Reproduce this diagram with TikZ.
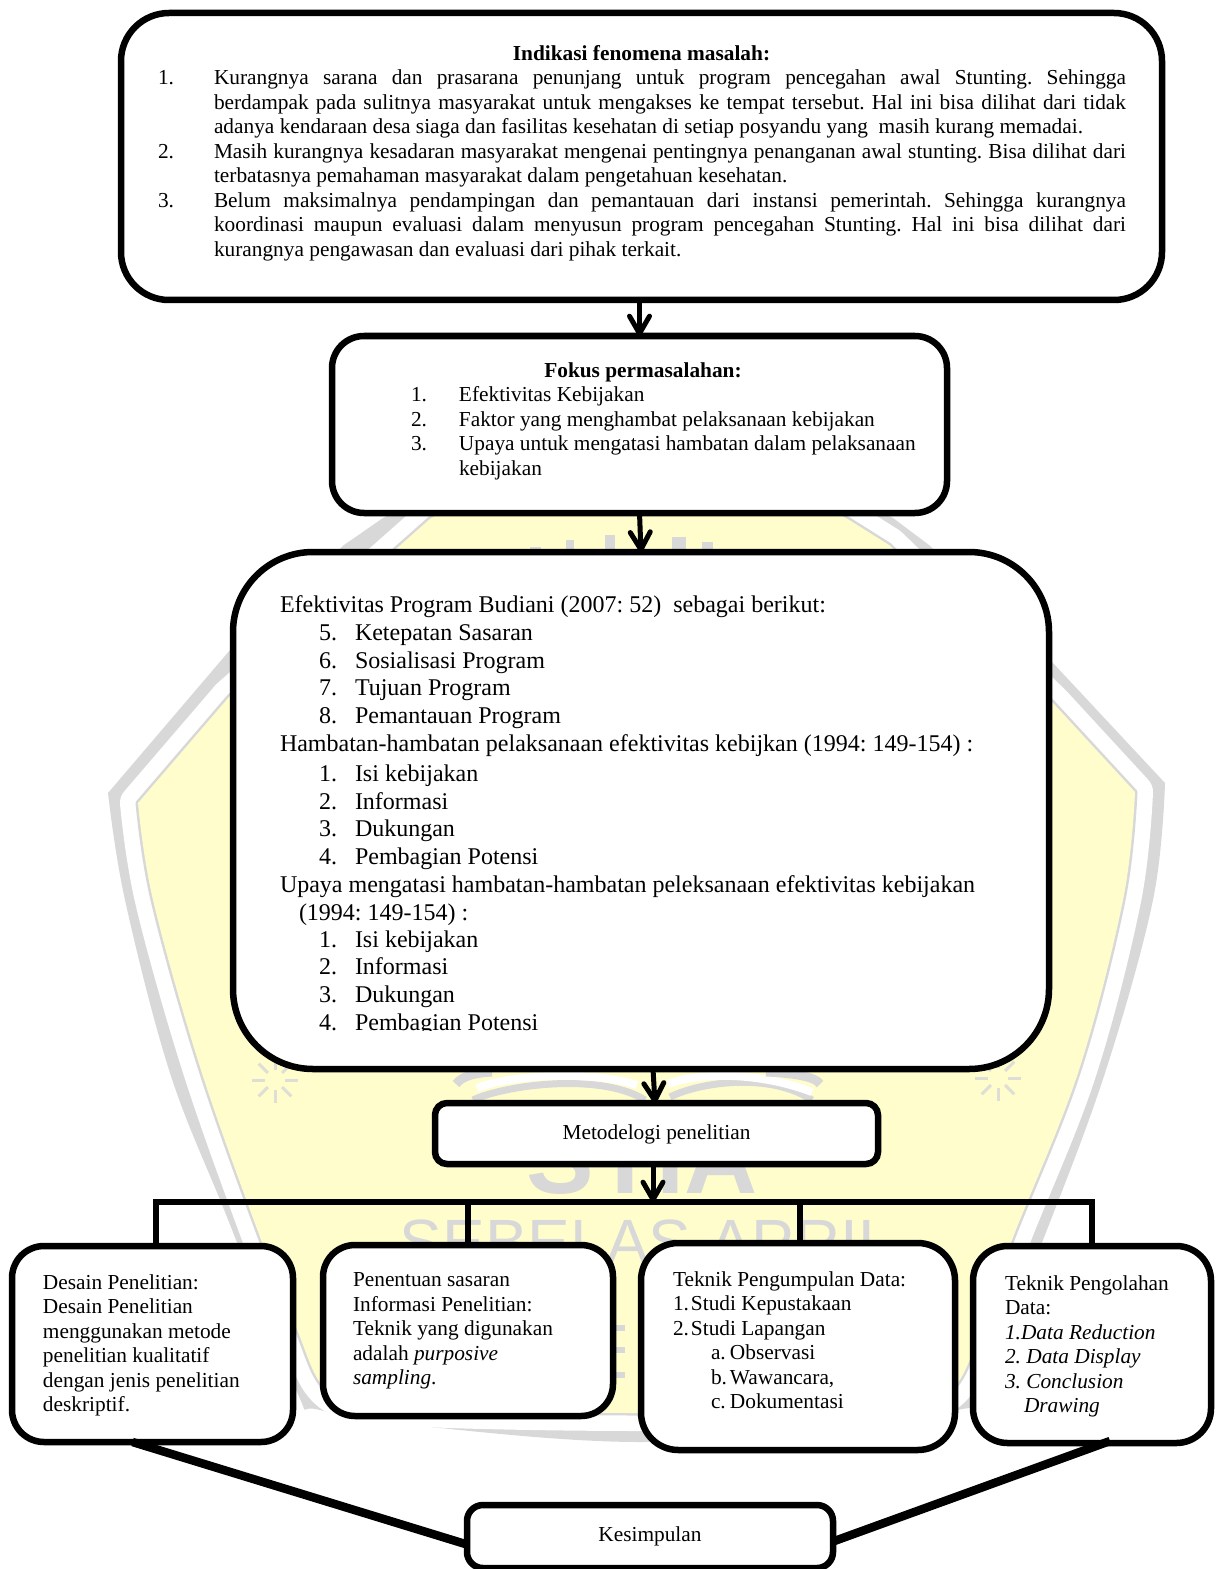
\documentclass[tikz,border=0pt]{standalone}
\usepackage{fontspec}
\setmainfont{Liberation Serif}
\newfontfamily\wmfont{Liberation Sans}
\usetikzlibrary{arrows.meta,calc}
\newlength\px \setlength\px{0.75pt}
\definecolor{shieldyellow}{HTML}{FFFDCB}
\definecolor{wmgray}{HTML}{D8D8D8}
\tikzset{
  boxnode/.style={draw=black,fill=white,line width=6.5*0.75pt,inner sep=0pt,outer sep=0pt},
  flow/.style={draw=black,line width=5*0.75pt,-{Straight Barb[length=13pt,width=15pt,round]},line cap=round},
  tline/.style={draw=black,line width=6*0.75pt},
  wing/.style={draw=black,line width=8.5*0.75pt},
  wmline/.style={draw=wmgray,line width=6*0.75pt}
}
% box body: width, height, first-baseline offset (px), font size (pt), baseline (px), contents
\newcommand{\boxbody}[6]{\begin{minipage}[c][#2\px][t]{#1\px}\frenchspacing\setlength\parindent{0pt}\setlength\parskip{0pt}\fontsize{#4}{#5\px}\selectfont\vspace*{#3\px}#6\end{minipage}}
\newcommand{\Ln}[2]{\leavevmode\hspace*{#1\px}\strut#2\par}
% justified line: left x, width, text
\newcommand{\Jl}[3]{\leavevmode\hspace*{#1\px}\strut\makebox[#2\px][s]{#3}\par}
\newcommand{\Nm}[4]{\leavevmode\hspace*{#1\px}\strut\makebox[#2\px][l]{#3}#4\par}
\newcommand{\NJ}[4]{\leavevmode\hspace*{#1\px}\strut\makebox[56\px][l]{#3}\makebox[#2\px][s]{#4}\par}
\begin{document}
\begin{tikzpicture}[x=0.75pt,y=-0.75pt]
\useasboundingbox (0,0) rectangle (1215,1569);
% --- watermark shield
\def\outerpath{(640,395) -- (383,518) -- (344,545) -- (230,650) -- (108,793) -- plot[smooth,tension=.6] coordinates {(108,793) (125,900) (170,1073) (227,1217) (296,1390) (320,1410) (440,1428) (640,1442) (838,1428) (958,1410) (982,1390) (1043,1240) (1105,1073) (1153,900) (1165,783)} -- (1053,663) -- (929,545) -- (893,518) -- cycle}
\def\innerpath{(640,420) -- (431,518) -- (229,697) -- (138,803) -- plot[smooth,tension=.6] coordinates {(138,803) (153,900) (200,1067) (260,1237) (296,1327) (322,1385) (360,1403) (450,1410) (640,1413) (830,1410) (918,1403) (956,1385) (982,1327) (1012,1240) (1078,1073) (1123,900) (1135,792)} -- (1053,703) -- (889,545) -- (846,518) -- cycle}
\fill[wmgray] \outerpath;
\draw[white,line width=36*0.75pt,line join=round] \innerpath;
\draw[wmgray,line width=5*0.75pt,line join=round] \innerpath;
\fill[shieldyellow] \innerpath;
% watermark lettering
\node[anchor=base,inner sep=0pt,text=wmgray] (wmA) at (642,1193) {\wmfont\bfseries\fontsize{76}{76}\selectfont STIA};
\node[anchor=base,inner sep=0pt,text=wmgray] (wmB) at (637,1264) [xshift=7.5pt] {\wmfont\fontsize{48}{48}\selectfont SEBELAS APRIL};
\foreach \a/\b/\t in {530/541/547,566/574/540,605/615/535,672/686/537,702/713/542}
  \fill[wmgray] (\a,\t) rectangle (\b,552);
\foreach \t in {1325,1347,1372}
  \fill[wmgray] (616,\t) rectangle (625,\t+6);
\foreach \cx/\cy in {275/1080,998/1078}
  \foreach \r in {0,45,...,315}
    \draw[wmgray!85!shieldyellow,line width=3*0.75pt] ($(\cx,\cy)+(\r:10)$) -- ($(\cx,\cy)+(\r:23)$);
% open-book arcs around the arrow under the big box
\draw[wmgray,line width=7*0.75pt] (473,1100) .. controls (505,1085) and (600,1072) .. (645,1100);
\draw[white,line width=8*0.75pt] (477,1088) .. controls (510,1075) and (590,1070) .. (637,1085);
\draw[wmgray,line width=7*0.75pt] (670,1097) .. controls (700,1082) and (770,1072) .. (812,1100);
\draw[white,line width=8*0.75pt] (668,1084) .. controls (700,1072) and (760,1072) .. (812,1092);
\draw[wmgray,line width=9*0.75pt] (456,1084) .. controls (462,1076) and (475,1073) .. (492,1072);
\draw[wmgray,line width=9*0.75pt] (820,1084) .. controls (815,1076) and (790,1073) .. (766,1072);
% --- boxes
\node[boxnode,rounded corners=36pt] (a) at (641.5,156.5) {\boxbody{1041}{287}{30}{16}{24.5}{%
  \Ln{0}{\makebox[1041\px][c]{\bfseries Indikasi fenomena masalah:}}
  \NJ{37}{912}{1.}{Kurangnya sarana dan prasarana penunjang untuk program pencegahan awal Stunting. Sehingga}
  \Jl{93}{912}{berdampak pada sulitnya masyarakat untuk mengakses ke tempat tersebut. Hal ini bisa dilihat dari tidak}
  \Ln{93}{adanya kendaraan desa siaga dan fasilitas kesehatan di setiap posyandu yang\ \ masih kurang memadai.}
  \NJ{37}{912}{2.}{Masih kurangnya kesadaran masyarakat mengenai pentingnya penanganan awal stunting. Bisa dilihat dari}
  \Ln{93}{terbatasnya pemahaman masyarakat dalam pengetahuan kesehatan.}
  \NJ{37}{912}{3.}{Belum maksimalnya pendampingan dan pemantauan dari instansi pemerintah. Sehingga kurangnya}
  \Jl{93}{912}{koordinasi maupun evaluasi dalam menyusun program pencegahan Stunting. Hal ini bisa dilihat dari}
  \Ln{93}{kurangnya pengawasan dan evaluasi dari pihak terkait.}
}};
\node[boxnode,rounded corners=24pt] (b) at (639.5,424.5) {\boxbody{615}{177}{24}{16}{24.5}{%
  \Ln{0}{\makebox[615\px][c]{\hspace*{7\px}\bfseries Fokus permasalahan:}}
  \Nm{79}{48}{1.}{Efektivitas Kebijakan}
  \Nm{79}{48}{2.}{Faktor yang menghambat pelaksanaan kebijakan}
  \Nm{79}{48}{3.}{Upaya untuk mengatasi hambatan dalam pelaksanaan}
  \Ln{127}{kebijakan}
}};
\node[boxnode,rounded corners=60pt] (c) at (641,810.5) {\boxbody{816}{517}{41}{18}{27.8}{%
  \Ln{47}{Efektivitas Program Budiani (2007: 52)\ \ sebagai berikut:}
  \Nm{86}{36}{5.}{Ketepatan Sasaran}
  \Nm{86}{36}{6.}{Sosialisasi Program}
  \Nm{86}{36}{7.}{Tujuan Program}
  \Nm{86}{36}{8.}{Pemantauan Program}
  \Ln{47}{Hambatan-hambatan pelaksanaan efektivitas kebijkan (1994: 149-154) :}
  \vspace*{2\px}\Nm{86}{36}{1.}{Isi kebijakan}
  \Nm{86}{36}{2.}{Informasi}
  \Nm{86}{36}{3.}{Dukungan}
  \Nm{86}{36}{4.}{Pembagian Potensi}
  \Ln{47}{Upaya mengatasi hambatan-hambatan peleksanaan efektivitas kebijakan}
  \Ln{66}{(1994: 149-154) :}
  \vspace*{-1\px}\Nm{86}{36}{1.}{Isi kebijakan}
  \Nm{86}{36}{2.}{Informasi}
  \Nm{86}{36}{3.}{Dukungan}
  \Nm{86}{36}{4.}{Pembagian Potensi}
}};
\node[boxnode,rounded corners=9pt] (d) at (656.5,1133.5) {\boxbody{443}{61}{19}{16}{24.5}{%
  \Ln{0}{\makebox[443\px][c]{Metodelogi penelitian}}
}};
\node[boxnode,rounded corners=24pt] (e) at (152.5,1344) {\boxbody{281}{196}{26}{16}{24.5}{%
  \Ln{31}{Desain Penelitian:}
  \Ln{31}{Desain Penelitian}
  \Ln{31}{menggunakan metode}
  \Ln{31}{penelitian kualitatif}
  \Ln{31}{dengan jenis penelitian}
  \Ln{31}{deskriptif.}
}};
\node[boxnode,rounded corners=24pt] (f) at (468,1330.5) {\boxbody{290}{171}{24.5}{16}{24.5}{%
  \Ln{30}{Penentuan sasaran}
  \Ln{30}{Informasi Penelitian:}
  \Ln{30}{Teknik yang digunakan}
  \Ln{30}{adalah \textit{purposive}}
  \Ln{30}{\textit{sampling}.}
}};
\node[boxnode,rounded corners=28pt] (g) at (798,1346.5) {\boxbody{314}{207}{26}{16}{24.5}{%
  \Ln{32}{Teknik Pengumpulan Data:}
  \Nm{32}{18}{1.}{Studi Kepustakaan}
  \Nm{32}{18}{2.}{Studi Lapangan}
  \Nm{70}{19}{a.}{Observasi}
  \Nm{70}{19}{b.}{Wawancara,}
  \Nm{70}{19}{c.}{Dokumentasi}
}};
\node[boxnode,rounded corners=26pt] (h) at (1092,1344.5) {\boxbody{238}{197}{27}{16}{24.5}{%
  \Ln{32}{Teknik Pengolahan}
  \Ln{32}{Data:}
  \Ln{32}{\textit{1.Data Reduction}}
  \Ln{32}{\textit{2. Data Display}}
  \Ln{32}{\textit{3. Conclusion}}
  \Ln{51}{\textit{Drawing}}
}};
\node[boxnode,rounded corners=12pt] (k) at (650,1536.5) {\boxbody{366}{63}{19}{16}{24.5}{%
  \Ln{0}{\makebox[366\px][c]{Kesimpulan}}
}};
% clipped descenders at the foot of the big box
\fill[white] (340,1031) rectangle (600,1045);
% --- connectors
\draw[flow] (b.north |- a.south) -- (b.north);
\draw[flow] (b.south) -- (c.north);
\draw[flow] ([xshift=-3.5*0.75pt]d.north |- c.south) -- ([xshift=-1.5*0.75pt]d.north);
\coordinate (barL) at (156,1202);
\coordinate (barR) at (1092,1202);
\coordinate (barM) at (653,1202);
\draw[tline,line join=miter] (barL |- e.north) -- (barL) -- (barR) -- (barR |- h.north);
\draw[tline] (f.north |- barL) -- (f.north);
\draw[tline] ([xshift=2*0.75pt]g.north |- barL) -- ([xshift=2*0.75pt]g.north);
\draw[flow] (barM |- d.south) -- (barM);
\draw[wing] ([xshift=-20*0.75pt]e.south) -- ([yshift=-8*0.75pt]k.west);
\draw[wing] ([xshift=18*0.75pt,yshift=2*0.75pt]h.south) -- ([yshift=-5*0.75pt]k.east);
\end{tikzpicture}
\end{document}
